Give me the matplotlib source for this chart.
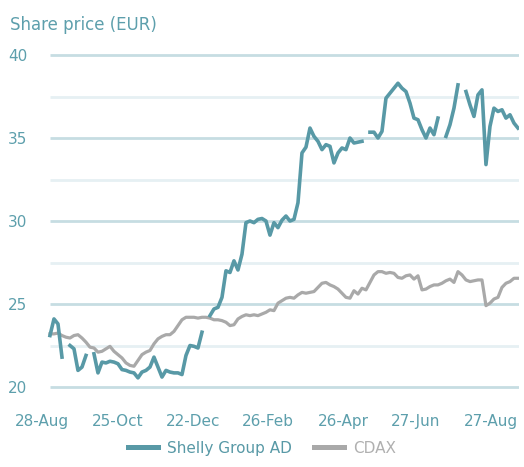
import matplotlib
matplotlib.use("Agg")
import matplotlib.pyplot as plt
import numpy as np

nan = np.nan

# tick labels (trading-day axis, labels evenly spaced)
tick_labels = ["28-Aug", "25-Oct", "22-Dec", "26-Feb", "26-Apr", "27-Jun", "27-Aug"]
tick_pos = [-2, 17, 35.75, 54.5, 73.25, 91.5, 110.25]

# Shelly Group AD share price (EUR), gaps = missing quotes
shelly = [23.1, 24.1, 23.8, 21.8, nan, 22.5, 22.3, 21.0, 21.2, 21.9,
          nan, 22.0, 20.85, 21.5, 21.45, 21.55, 21.5, 21.4, 21.05, 21.0,
          20.9, 20.85, 20.55, 20.9, 21.0, 21.2, 21.8, 21.2, 20.6, 21.0,
          20.9, 20.85, 20.85, 20.75, 21.9, 22.5, 22.45, 22.35, 23.3, nan,
          24.3, 24.7, 24.8, 25.4, 27.0, 26.9, 27.6, 27.05, 28.0, 29.9,
          30.0, 29.9, 30.1, 30.15, 30.0, 29.15, 29.9, 29.6, 30.05, 30.3,
          30.0, 30.1, 31.1, 34.1, 34.45, 35.6, 35.1, 34.8, 34.3, 34.6,
          34.5, 33.5, 34.1, 34.4, 34.3, 35.0, 34.7, 34.75, 34.8, nan,
          35.35, 35.35, 35.0, 35.4, 37.4, 37.7, 38.0, 38.3, 38.0, 37.8,
          37.1, 36.2, 36.1, 35.5, 35.0, 35.6, 35.2, 36.2, nan, 35.1,
          35.8, 36.8, 38.2, nan, 37.8, 37.0, 36.3, 37.6, 37.9, 33.4,
          35.7, 36.8, 36.6, 36.7, 36.2, 36.4, 35.9, 35.6]

# CDAX, rebased to the share price
cdax = [23.2, 23.2, 23.25, 23.1, 23.0, 22.95, 23.1, 23.15, 22.95, 22.7,
        22.4, 22.35, 22.1, 22.15, 22.3, 22.45, 22.15, 21.95, 21.75, 21.45,
        21.3, 21.25, 21.6, 21.95, 22.1, 22.2, 22.6, 22.9, 23.05, 23.15,
        23.15, 23.35, 23.7, 24.05, 24.2, 24.2, 24.2, 24.15, 24.2, 24.2,
        24.15, 24.05, 24.05, 24.0, 23.9, 23.7, 23.75, 24.1, 24.25, 24.35,
        24.3, 24.35, 24.3, 24.4, 24.5, 24.65, 24.6, 25.05, 25.2, 25.35,
        25.4, 25.35, 25.55, 25.7, 25.65, 25.7, 25.75, 26.0, 26.25, 26.3,
        26.15, 26.05, 25.9, 25.65, 25.4, 25.35, 25.8, 25.6, 25.95, 25.85,
        26.3, 26.75, 26.95, 26.95, 26.85, 26.9, 26.85, 26.6, 26.55, 26.7,
        26.75, 26.5, 26.7, 25.85, 25.9, 26.05, 26.15, 26.15, 26.25, 26.4,
        26.5, 26.3, 26.95, 26.75, 26.45, 26.35, 26.4, 26.45, 26.45, 24.9,
        25.05, 25.3, 25.4, 26.0, 26.25, 26.35, 26.55, 26.55]

teal = "#5899a6"
grey = "#a9a9a9"
label_col = "#5d9fac"

x = np.arange(len(shelly))

fig = plt.figure(figsize=(5.24, 4.67), dpi=100)
ax = fig.add_axes([0.0763, 0.1642, 0.9141, 0.7251])

# gridlines drawn by hand so they start where the data starts
for v in np.arange(20, 40.1, 2.5):
    major = v % 5 == 0
    ax.hlines(v, 0, 117.25, color="#c6dde2" if major else "#e6f0f3",
              lw=2.0, zorder=0)

ax.plot(x, cdax, color=grey, lw=2.3, label="CDAX", zorder=2)
ax.plot(x, shelly, color=teal, lw=2.6, label="Shelly Group AD", zorder=3)

ax.set_xlim(-2.5, 117.25)
ax.set_ylim(19.8, 40.2)
ax.set_yticks([20, 25, 30, 35, 40])
ax.set_xticks(tick_pos)
ax.set_xticklabels(tick_labels)
ax.tick_params(axis="both", length=0, labelsize=11, colors=label_col)
ax.tick_params(axis="y", pad=9)
ax.tick_params(axis="x", pad=17)
for s in ax.spines.values():
    s.set_visible(False)

fig.text(0.019, 0.935, "Share price (EUR)", fontsize=12, color=label_col)

h, l = ax.get_legend_handles_labels()
leg = fig.legend([h[1], h[0]], [l[1], l[0]], loc="lower center",
                 bbox_to_anchor=(0.5, -0.005), ncol=2, frameon=False,
                 fontsize=11, handlelength=2.0, handletextpad=0.6,
                 columnspacing=1.4, labelcolor=[teal, "#b0b0b0"])
for ln in leg.get_lines():
    ln.set_linewidth(3.6)

fig.savefig("out.png", dpi=100)
